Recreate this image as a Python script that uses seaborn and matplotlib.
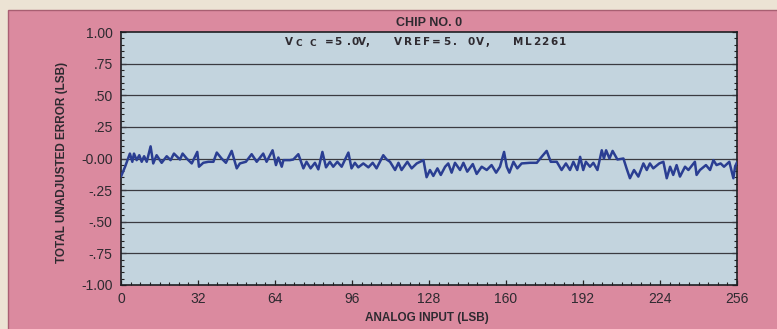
import matplotlib
matplotlib.use("Agg")
import matplotlib.pyplot as plt
import seaborn as sns
import pandas as pd
from matplotlib.patches import Rectangle
from matplotlib.ticker import MultipleLocator, FixedLocator

sns.set_theme(style="white")
plt.rcParams['font.family'] = ['Liberation Sans', 'DejaVu Sans']

# Analog input codes (LSB) and total unadjusted error (LSB)
analog_input = [
    0, 1.7, 3.7, 4.7, 5.4, 6.5, 7.6, 8.6, 9.6, 10.7, 12.3, 13.4, 14.8, 16.9, 19.0,
    20.6, 22.0, 24.5, 25.6, 27.3, 29.4, 31.7, 32.4, 34.2, 36.3, 38.4, 39.8, 41.8,
    43.6, 46.0, 48.1, 49.4, 51.9, 54.3, 56.4, 59.1, 60.5, 63.0, 64.4, 65.4, 66.8,
    67.5, 70.2, 71.6, 73.7, 75.8, 77.1, 78.8, 80.6, 82.0, 83.7, 85.2, 86.8, 88.2,
    89.9, 91.7, 94.5, 95.8, 97.2, 98.6, 100.7, 102.8, 104.6, 106.2, 109.0, 110.4,
    111.8, 113.9, 115.3, 116.6, 119.0, 120.8, 122.9, 125.7, 127.0, 128.4, 129.8,
    131.5, 132.9, 134.7, 136.0, 137.4, 138.8, 140.9, 142.3, 143.9, 146.2, 147.8,
    149.9, 152.0, 154.0, 155.9, 157.5, 159.2, 160.3, 161.4, 163.1, 164.7, 166.5,
    170.0, 172.8, 174.8, 176.9, 178.6, 181.1, 183.1, 184.9, 186.6, 188.0, 189.6,
    190.8, 192.1, 193.2, 194.9, 196.3, 198.0, 199.8, 200.7, 201.6, 203.0, 204.3,
    206.3, 208.8, 210.1, 211.5, 213.2, 215.0, 217.1, 218.5, 219.8, 221.2, 223.7,
    225.4, 226.8, 228.2, 229.5, 230.9, 232.3, 234.4, 235.8, 238.5, 239.2, 240.6,
    243.1, 244.8, 246.2, 247.5, 249.2, 250.6, 252.8, 254.5, 255.2, 256.0,
]
tue_error = [
    -0.143, -0.065, 0.039, -0.026, 0.039, -0.013, 0.026, -0.026, 0.018, -0.026,
    0.096, -0.039, 0.026, -0.034, 0.018, -0.013, 0.039, -0.008, 0.039, 0.0,
    -0.039, 0.052, -0.065, -0.034, -0.026, -0.026, 0.047, 0.0, -0.034, 0.06,
    -0.078, -0.039, -0.026, 0.034, -0.026, 0.039, -0.026, 0.065, -0.052, 0.008,
    -0.065, -0.013, -0.013, -0.008, 0.034, -0.078, -0.026, -0.078, -0.034, -0.086,
    0.052, -0.07, -0.026, -0.065, -0.026, -0.065, 0.047, -0.078, -0.034, -0.07,
    -0.039, -0.07, -0.034, -0.078, 0.026, -0.008, -0.026, -0.091, -0.034, -0.091,
    -0.026, -0.078, -0.039, -0.013, -0.148, -0.091, -0.138, -0.078, -0.13, -0.065,
    -0.039, -0.112, -0.034, -0.091, -0.034, -0.104, -0.044, -0.122, -0.065, -0.091,
    -0.052, -0.112, -0.065, 0.052, -0.065, -0.112, -0.026, -0.078, -0.039, -0.034,
    -0.034, 0.013, 0.06, -0.026, -0.026, -0.091, -0.039, -0.091, -0.026, -0.091,
    0.013, -0.091, -0.026, -0.065, -0.034, -0.091, 0.065, 0.0, 0.065, 0.0,
    0.06, -0.008, 0.0, -0.078, -0.156, -0.091, -0.143, -0.039, -0.091, -0.039,
    -0.078, -0.039, -0.026, -0.156, -0.065, -0.13, -0.052, -0.143, -0.065, -0.091,
    -0.026, -0.13, -0.091, -0.052, -0.091, -0.013, -0.052, -0.039, -0.065, -0.026,
    -0.156, -0.065, -0.03,
]

y_ticks = [1.0, 0.75, 0.5, 0.25, 0.0, -0.25, -0.5, -0.75, -1.0]
y_tick_labels = ["1.00", ".75", ".50", ".25", "-0.00", "-.25", "-.50", "-.75", "-1.00"]
x_ticks = [0, 32, 64, 96, 128, 160, 192, 224, 256]
x_tick_labels = ["0", "32", "64", "96", "128", "160", "192", "224", "256"]

title_text = "CHIP NO. 0"
subtitle_parts = ["V", "CC", "=5 .0V,", "VREF=5. 0V,", "ML2261"]
x_label = "ANALOG INPUT (LSB)"
y_label = "TOTAL UNADJUSTED ERROR (LSB)"

df = pd.DataFrame({"x": analog_input, "y": tue_error})

PAPER = "#ece3d4"
PINK = "#db8a9f"
PLOT_BG = "#c3d4de"
LINE = "#2a3e92"
TEXT = "#2e2a30"

W, H = 777, 329
fig = plt.figure(figsize=(W / 100, H / 100), dpi=100, facecolor=PAPER)
fig.patches.append(Rectangle((8 / W, -0.01), 1 - 8 / W + 0.01, 1 - 10 / H + 0.01,
                             transform=fig.transFigure, facecolor=PINK,
                             edgecolor="#a85f72", linewidth=1.0, zorder=-5))

ax = fig.add_axes([121 / W, 1 - 285 / H, (737 - 121) / W, (285 - 32) / H])
ax.set_facecolor(PLOT_BG)

for yv in y_ticks[1:-1]:
    ax.axhline(yv, color="#3a3a40", linewidth=0.9, zorder=1)

sns.lineplot(data=df, x="x", y="y", ax=ax, color=LINE, linewidth=1.8,
             estimator=None, sort=False, zorder=3)

ax.set_xlim(0, 256)
ax.set_ylim(-1.0, 1.0)

ax.xaxis.set_major_locator(FixedLocator(x_ticks))
ax.set_xticklabels(x_tick_labels)
ax.yaxis.set_major_locator(FixedLocator(y_ticks))
ax.set_yticklabels(y_tick_labels)
ax.xaxis.set_minor_locator(MultipleLocator(4))
ax.yaxis.set_minor_locator(MultipleLocator(0.05))

ax.tick_params(axis="both", which="both", direction="in", colors="#222222",
               labelcolor=TEXT, labelsize=10)
ax.tick_params(axis="y", which="both", left=True, right=True)
ax.tick_params(axis="x", which="both", bottom=True, top=False)
ax.tick_params(which="major", length=3.5, width=0.9)
ax.tick_params(which="minor", length=2, width=0.8)
ax.tick_params(axis="x", pad=5)
ax.tick_params(axis="y", pad=6)

for s in ax.spines.values():
    s.set_color("#1e1e22")
    s.set_linewidth(1.2)

ax.set_xlabel(x_label, fontsize=8.5, fontweight="bold", color=TEXT)
ax.set_ylabel(y_label, fontsize=8.5, fontweight="bold", color=TEXT)
ax.xaxis.set_label_coords((427 - 121) / (737 - 121), -(318 - 285) / (285 - 32))
ax.yaxis.set_label_coords(-(121 - 62) / (737 - 121), (285 - 162) / (285 - 32))
ax.xaxis.label.set_va("center")
ax.yaxis.label.set_va("center")

fig.text(429 / W, 1 - 22.5 / H, title_text, ha="center", va="center",
         fontsize=9, fontweight="bold", color=TEXT)

# letter-spaced subtitle inside the plot
renderer = fig.canvas.get_renderer()
SUB_FONT = ['DejaVu Sans']
fs = 7.5


def tracked(text, x0, x1, yc, size=fs):
    chars = list(text)
    widths = []
    for c in chars:
        t = fig.text(0, 0, c if c != " " else "n", fontsize=size,
                     fontweight="bold", family=SUB_FONT)
        w = t.get_window_extent(renderer).width
        if c == " ":
            w *= 0.8
        widths.append(w)
        t.remove()
    track = (x1 - x0 - sum(widths)) / max(len(chars) - 1, 1)
    x = x0
    for c, w in zip(chars, widths):
        if c != " ":
            fig.text(round(x) / W, 1 - yc / H, c, fontsize=size, fontweight="bold",
                     family=SUB_FONT, color=TEXT, ha="left", va="baseline")
        x += w + track


base = 45
tracked(subtitle_parts[0], 285, 294, base)
tracked(subtitle_parts[1], 296, 317, base + 1.5, size=6.5)
tracked(subtitle_parts[2], 325, 370, base)
tracked(subtitle_parts[3], 394, 490, base)
tracked(subtitle_parts[4], 513, 566, base)

fig.savefig("out.png", dpi=100, facecolor=fig.get_facecolor())
